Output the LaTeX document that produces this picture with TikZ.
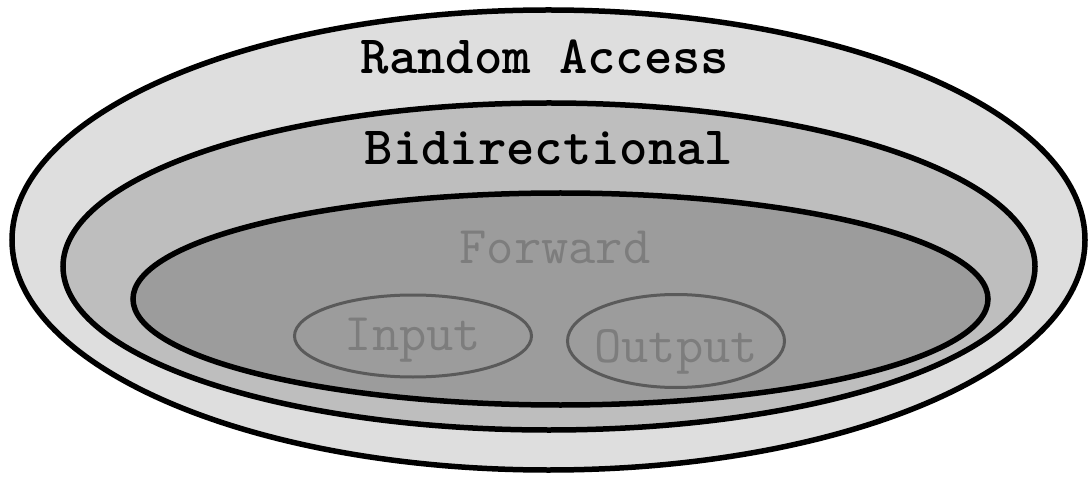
\documentclass[tikz,border=0pt]{standalone}
\usepackage{xcolor}
\definecolor{outerFill}{RGB}{222,222,222}
\definecolor{midFill}{RGB}{190,190,190}
\definecolor{innerFill}{RGB}{156,156,156}
\definecolor{faintText}{RGB}{125,125,125}
\definecolor{faintLine}{RGB}{90,90,90}
\usepackage{tikz}
\usetikzlibrary{shapes.geometric,positioning}
\tikzstyle{layer}=[draw, ellipse, line width=5.5pt, inner sep=0pt]
\tikzstyle{stream}=[draw=faintLine, ellipse, line width=3pt, inner sep=0pt]
\tikzstyle{boldlabel}=[font=\ttfamily\bfseries\fontsize{54}{56}\selectfont, text=black]
\tikzstyle{faintlabel}=[font=\ttfamily\fontsize{53}{56}\selectfont, text=faintText]

\begin{document}
\begin{tikzpicture}[x=1pt, y=1pt]
        \useasboundingbox (0,0) rectangle (1089,477);
        \node[layer, fill=outerFill, minimum width=1073pt, minimum height=460pt]
          (random) at (548.5,237) {};
        \node[layer, fill=midFill, minimum width=972pt, minimum height=327pt]
          (bidir) at (549,210.5) {};
        \node[layer, fill=innerFill, minimum width=855pt, minimum height=212pt]
          (forward) at (560.5,178) {};
        \node[stream, minimum width=237pt, minimum height=82pt]
          (input) at (413,141) {};
        \node[stream, minimum width=217pt, minimum height=93pt]
          (output) at (676,136) {};
        \node[boldlabel] (randomText) at (545,420) {Random Access};
        \node[boldlabel] (bidirText) at (549,329) {Bidirectional};
        \node[faintlabel] (forwardText) at (555,230) {Forward};
        \node[faintlabel] (inputText) at (413,137) {Input};
        \node[faintlabel] (outputText) at (676,125) {Output};
      \end{tikzpicture}
\end{document}
